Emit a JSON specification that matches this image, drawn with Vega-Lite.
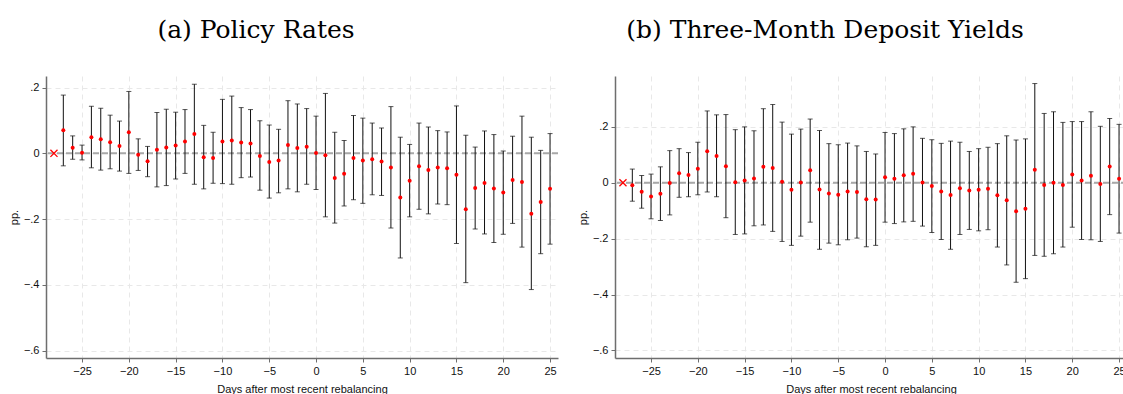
{
  "$schema": "https://vega.github.io/schema/vega-lite/v6.json",
  "padding": {"left": 8, "top": 18, "right": 0, "bottom": 0},
  "spacing": 18,
  "config": {
    "view": {"stroke": null},
    "title": {"font": "DejaVu Serif", "fontSize": 25, "fontWeight": "normal", "color": "#000", "baseline": "alphabetic", "offset": 32.7, "anchor": "middle", "frame": "group"},
    "axis": {"grid": true, "gridColor": "#e8e8e8", "gridDash": [5, 4], "gridWidth": 1, "domainColor": "#6e6e6e", "domainWidth": 1.5, "tickColor": "#6e6e6e", "tickSize": 4, "labelPadding": 3, "labelFont": "Liberation Sans", "labelFontSize": 11, "labelColor": "#111", "titleFont": "Liberation Sans", "titleFontSize": 11, "titleFontWeight": "normal", "titleColor": "#111"},
    "axisY": {"labelExpr": "datum.value == 0 ? '0' : replace(format(datum.value, '.1f'), '0.', '.')", "titlePadding": 4},
    "axisX": {"titlePadding": 7}
  },
  "datasets": {
    "policy": [
      {"day": -28, "est": 0},
      {"day": -27, "est": 0.070, "lo": -0.038, "hi": 0.177},
      {"day": -26, "est": 0.017, "lo": -0.018, "hi": 0.053},
      {"day": -25, "est": 0.002, "lo": -0.020, "hi": 0.025},
      {"day": -24, "est": 0.049, "lo": -0.044, "hi": 0.143},
      {"day": -23, "est": 0.043, "lo": -0.051, "hi": 0.137},
      {"day": -22, "est": 0.034, "lo": -0.047, "hi": 0.116},
      {"day": -21, "est": 0.022, "lo": -0.054, "hi": 0.098},
      {"day": -20, "est": 0.064, "lo": -0.061, "hi": 0.188},
      {"day": -19, "est": -0.004, "lo": -0.052, "hi": 0.044},
      {"day": -18, "est": -0.024, "lo": -0.071, "hi": 0.021},
      {"day": -17, "est": 0.011, "lo": -0.102, "hi": 0.124},
      {"day": -16, "est": 0.018, "lo": -0.098, "hi": 0.134},
      {"day": -15, "est": 0.024, "lo": -0.078, "hi": 0.125},
      {"day": -14, "est": 0.036, "lo": -0.061, "hi": 0.133},
      {"day": -13, "est": 0.059, "lo": -0.094, "hi": 0.210},
      {"day": -12, "est": -0.012, "lo": -0.108, "hi": 0.085},
      {"day": -11, "est": -0.014, "lo": -0.091, "hi": 0.064},
      {"day": -10, "est": 0.036, "lo": -0.092, "hi": 0.164},
      {"day": -9, "est": 0.039, "lo": -0.094, "hi": 0.174},
      {"day": -8, "est": 0.033, "lo": -0.074, "hi": 0.139},
      {"day": -7, "est": 0.030, "lo": -0.072, "hi": 0.133},
      {"day": -6, "est": -0.008, "lo": -0.112, "hi": 0.099},
      {"day": -5, "est": -0.026, "lo": -0.136, "hi": 0.086},
      {"day": -4, "est": -0.022, "lo": -0.120, "hi": 0.073},
      {"day": -3, "est": 0.025, "lo": -0.108, "hi": 0.160},
      {"day": -2, "est": 0.016, "lo": -0.117, "hi": 0.150},
      {"day": -1, "est": 0.020, "lo": -0.094, "hi": 0.136},
      {"day": 0, "est": 0.001, "lo": -0.110, "hi": 0.113},
      {"day": 1, "est": -0.006, "lo": -0.193, "hi": 0.182},
      {"day": 2, "est": -0.075, "lo": -0.212, "hi": 0.064},
      {"day": 3, "est": -0.062, "lo": -0.160, "hi": 0.039},
      {"day": 4, "est": -0.014, "lo": -0.141, "hi": 0.115},
      {"day": 5, "est": -0.022, "lo": -0.152, "hi": 0.107},
      {"day": 6, "est": -0.018, "lo": -0.126, "hi": 0.092},
      {"day": 7, "est": -0.025, "lo": -0.128, "hi": 0.077},
      {"day": 8, "est": -0.043, "lo": -0.227, "hi": 0.142},
      {"day": 9, "est": -0.134, "lo": -0.318, "hi": 0.049},
      {"day": 10, "est": -0.083, "lo": -0.193, "hi": 0.027},
      {"day": 11, "est": -0.039, "lo": -0.170, "hi": 0.092},
      {"day": 12, "est": -0.051, "lo": -0.184, "hi": 0.080},
      {"day": 13, "est": -0.043, "lo": -0.154, "hi": 0.069},
      {"day": 14, "est": -0.045, "lo": -0.156, "hi": 0.065},
      {"day": 15, "est": -0.065, "lo": -0.274, "hi": 0.144},
      {"day": 16, "est": -0.170, "lo": -0.393, "hi": 0.055},
      {"day": 17, "est": -0.105, "lo": -0.230, "hi": 0.019},
      {"day": 18, "est": -0.090, "lo": -0.245, "hi": 0.068},
      {"day": 19, "est": -0.107, "lo": -0.271, "hi": 0.057},
      {"day": 20, "est": -0.119, "lo": -0.246, "hi": 0.007},
      {"day": 21, "est": -0.081, "lo": -0.213, "hi": 0.052},
      {"day": 22, "est": -0.087, "lo": -0.285, "hi": 0.113},
      {"day": 23, "est": -0.184, "lo": -0.414, "hi": 0.049},
      {"day": 24, "est": -0.148, "lo": -0.305, "hi": 0.009},
      {"day": 25, "est": -0.108, "lo": -0.276, "hi": 0.060}
    ],
    "deposit": [
      {"day": -28, "est": 0},
      {"day": -27, "est": -0.009, "lo": -0.066, "hi": 0.049},
      {"day": -26, "est": -0.032, "lo": -0.091, "hi": 0.026},
      {"day": -25, "est": -0.049, "lo": -0.129, "hi": 0.031},
      {"day": -24, "est": -0.039, "lo": -0.135, "hi": 0.057},
      {"day": -23, "est": -0.001, "lo": -0.115, "hi": 0.115},
      {"day": -22, "est": 0.034, "lo": -0.052, "hi": 0.122},
      {"day": -21, "est": 0.028, "lo": -0.050, "hi": 0.108},
      {"day": -20, "est": 0.050, "lo": -0.043, "hi": 0.145},
      {"day": -19, "est": 0.113, "lo": -0.033, "hi": 0.257},
      {"day": -18, "est": 0.096, "lo": -0.050, "hi": 0.243},
      {"day": -17, "est": 0.059, "lo": -0.125, "hi": 0.244},
      {"day": -16, "est": 0.002, "lo": -0.185, "hi": 0.190},
      {"day": -15, "est": 0.008, "lo": -0.183, "hi": 0.200},
      {"day": -14, "est": 0.015, "lo": -0.154, "hi": 0.186},
      {"day": -13, "est": 0.057, "lo": -0.151, "hi": 0.265},
      {"day": -12, "est": 0.053, "lo": -0.174, "hi": 0.280},
      {"day": -11, "est": 0.004, "lo": -0.210, "hi": 0.217},
      {"day": -10, "est": -0.025, "lo": -0.224, "hi": 0.174},
      {"day": -9, "est": 0.001, "lo": -0.191, "hi": 0.192},
      {"day": -8, "est": 0.045, "lo": -0.141, "hi": 0.228},
      {"day": -7, "est": -0.024, "lo": -0.238, "hi": 0.187},
      {"day": -6, "est": -0.038, "lo": -0.216, "hi": 0.140},
      {"day": -5, "est": -0.043, "lo": -0.222, "hi": 0.136},
      {"day": -4, "est": -0.031, "lo": -0.204, "hi": 0.142},
      {"day": -3, "est": -0.033, "lo": -0.198, "hi": 0.132},
      {"day": -2, "est": -0.059, "lo": -0.229, "hi": 0.112},
      {"day": -1, "est": -0.060, "lo": -0.224, "hi": 0.103},
      {"day": 0, "est": 0.020, "lo": -0.141, "hi": 0.180},
      {"day": 1, "est": 0.014, "lo": -0.146, "hi": 0.176},
      {"day": 2, "est": 0.027, "lo": -0.140, "hi": 0.193},
      {"day": 3, "est": 0.032, "lo": -0.138, "hi": 0.200},
      {"day": 4, "est": 0.001, "lo": -0.155, "hi": 0.159},
      {"day": 5, "est": -0.012, "lo": -0.178, "hi": 0.154},
      {"day": 6, "est": -0.031, "lo": -0.203, "hi": 0.141},
      {"day": 7, "est": -0.044, "lo": -0.238, "hi": 0.149},
      {"day": 8, "est": -0.020, "lo": -0.185, "hi": 0.145},
      {"day": 9, "est": -0.028, "lo": -0.167, "hi": 0.112},
      {"day": 10, "est": -0.025, "lo": -0.172, "hi": 0.122},
      {"day": 11, "est": -0.021, "lo": -0.168, "hi": 0.127},
      {"day": 12, "est": -0.045, "lo": -0.230, "hi": 0.140},
      {"day": 13, "est": -0.063, "lo": -0.294, "hi": 0.168},
      {"day": 14, "est": -0.102, "lo": -0.356, "hi": 0.153},
      {"day": 15, "est": -0.093, "lo": -0.343, "hi": 0.157},
      {"day": 16, "est": 0.047, "lo": -0.260, "hi": 0.355},
      {"day": 17, "est": -0.008, "lo": -0.263, "hi": 0.248},
      {"day": 18, "est": 0.000, "lo": -0.254, "hi": 0.254},
      {"day": 19, "est": -0.008, "lo": -0.230, "hi": 0.216},
      {"day": 20, "est": 0.030, "lo": -0.159, "hi": 0.219},
      {"day": 21, "est": 0.008, "lo": -0.203, "hi": 0.219},
      {"day": 22, "est": 0.025, "lo": -0.204, "hi": 0.254},
      {"day": 23, "est": -0.004, "lo": -0.210, "hi": 0.202},
      {"day": 24, "est": 0.058, "lo": -0.114, "hi": 0.230},
      {"day": 25, "est": 0.014, "lo": -0.180, "hi": 0.209}
    ]
  },
  "hconcat": [
    {
      "width": 512,
      "height": 282,
      "title": {"text": "(a) Policy Rates", "dx": -46},
      "data": {"name": "policy"},
      "layer": [
        {
          "data": {"values": [{}]},
          "mark": {"type": "rule", "color": "#a8a8a8", "strokeWidth": 2, "strokeDash": [6, 3]},
          "encoding": {"y": {"datum": 0, "type": "quantitative", "scale": {"domain": [-0.622, 0.235], "nice": false, "zero": false}, "axis": {"values": [-0.6, -0.4, -0.2, 0, 0.2], "title": "pp."}}}
        },
        {
          "transform": [{"filter": "isValid(datum.lo)"}],
          "mark": {"type": "rule", "color": "#111", "strokeWidth": 1},
          "encoding": {
            "x": {"field": "day", "type": "quantitative", "scale": {"domain": [-28.85, 25.85], "nice": false, "zero": false}, "axis": {"values": [-25, -20, -15, -10, -5, 0, 5, 10, 15, 20, 25], "title": "Days after most recent rebalancing"}},
            "y": {"field": "lo", "type": "quantitative", "scale": {"domain": [-0.622, 0.235], "nice": false, "zero": false}, "axis": {"values": [-0.6, -0.4, -0.2, 0, 0.2], "title": "pp."}},
            "y2": {"field": "hi"}
          }
        },
        {
          "transform": [{"filter": "isValid(datum.lo)"}],
          "mark": {"type": "tick", "orient": "horizontal", "size": 5, "thickness": 1, "color": "#111"},
          "encoding": {
            "x": {"field": "day", "type": "quantitative", "scale": {"domain": [-28.85, 25.85], "nice": false, "zero": false}, "axis": {"values": [-25, -20, -15, -10, -5, 0, 5, 10, 15, 20, 25], "title": "Days after most recent rebalancing"}},
            "y": {"field": "lo", "type": "quantitative", "scale": {"domain": [-0.622, 0.235], "nice": false, "zero": false}, "axis": {"values": [-0.6, -0.4, -0.2, 0, 0.2], "title": "pp."}}
          }
        },
        {
          "transform": [{"filter": "isValid(datum.hi)"}],
          "mark": {"type": "tick", "orient": "horizontal", "size": 5, "thickness": 1, "color": "#111"},
          "encoding": {
            "x": {"field": "day", "type": "quantitative", "scale": {"domain": [-28.85, 25.85], "nice": false, "zero": false}, "axis": {"values": [-25, -20, -15, -10, -5, 0, 5, 10, 15, 20, 25], "title": "Days after most recent rebalancing"}},
            "y": {"field": "hi", "type": "quantitative", "scale": {"domain": [-0.622, 0.235], "nice": false, "zero": false}, "axis": {"values": [-0.6, -0.4, -0.2, 0, 0.2], "title": "pp."}}
          }
        },
        {
          "transform": [{"filter": "isValid(datum.lo)"}],
          "mark": {"type": "point", "filled": true, "shape": "circle", "size": 16, "color": "#ff0000", "opacity": 1},
          "encoding": {
            "x": {"field": "day", "type": "quantitative", "scale": {"domain": [-28.85, 25.85], "nice": false, "zero": false}, "axis": {"values": [-25, -20, -15, -10, -5, 0, 5, 10, 15, 20, 25], "title": "Days after most recent rebalancing"}},
            "y": {"field": "est", "type": "quantitative", "scale": {"domain": [-0.622, 0.235], "nice": false, "zero": false}, "axis": {"values": [-0.6, -0.4, -0.2, 0, 0.2], "title": "pp."}}
          }
        },
        {
          "transform": [{"filter": "!isValid(datum.lo)"}],
          "mark": {"type": "point", "filled": false, "shape": "M-1,-1L1,1M1,-1L-1,1", "size": 50, "color": "#ff0000", "strokeWidth": 1.3, "opacity": 1},
          "encoding": {
            "x": {"field": "day", "type": "quantitative", "scale": {"domain": [-28.85, 25.85], "nice": false, "zero": false}, "axis": {"values": [-25, -20, -15, -10, -5, 0, 5, 10, 15, 20, 25], "title": "Days after most recent rebalancing"}},
            "y": {"field": "est", "type": "quantitative", "scale": {"domain": [-0.622, 0.235], "nice": false, "zero": false}, "axis": {"values": [-0.6, -0.4, -0.2, 0, 0.2], "title": "pp."}}
          }
        }
      ]
    },
    {
      "width": 512,
      "height": 282,
      "title": {"text": "(b) Three-Month Deposit Yields", "dx": -46},
      "data": {"name": "deposit"},
      "layer": [
        {
          "data": {"values": [{}]},
          "mark": {"type": "rule", "color": "#a8a8a8", "strokeWidth": 2, "strokeDash": [6, 3]},
          "encoding": {"y": {"datum": 0, "type": "quantitative", "scale": {"domain": [-0.627, 0.382], "nice": false, "zero": false}, "axis": {"values": [-0.6, -0.4, -0.2, 0, 0.2], "title": "pp."}}}
        },
        {
          "transform": [{"filter": "isValid(datum.lo)"}],
          "mark": {"type": "rule", "color": "#111", "strokeWidth": 1},
          "encoding": {
            "x": {"field": "day", "type": "quantitative", "scale": {"domain": [-28.85, 25.85], "nice": false, "zero": false}, "axis": {"values": [-25, -20, -15, -10, -5, 0, 5, 10, 15, 20, 25], "title": "Days after most recent rebalancing"}},
            "y": {"field": "lo", "type": "quantitative", "scale": {"domain": [-0.627, 0.382], "nice": false, "zero": false}, "axis": {"values": [-0.6, -0.4, -0.2, 0, 0.2], "title": "pp."}},
            "y2": {"field": "hi"}
          }
        },
        {
          "transform": [{"filter": "isValid(datum.lo)"}],
          "mark": {"type": "tick", "orient": "horizontal", "size": 5, "thickness": 1, "color": "#111"},
          "encoding": {
            "x": {"field": "day", "type": "quantitative", "scale": {"domain": [-28.85, 25.85], "nice": false, "zero": false}, "axis": {"values": [-25, -20, -15, -10, -5, 0, 5, 10, 15, 20, 25], "title": "Days after most recent rebalancing"}},
            "y": {"field": "lo", "type": "quantitative", "scale": {"domain": [-0.627, 0.382], "nice": false, "zero": false}, "axis": {"values": [-0.6, -0.4, -0.2, 0, 0.2], "title": "pp."}}
          }
        },
        {
          "transform": [{"filter": "isValid(datum.hi)"}],
          "mark": {"type": "tick", "orient": "horizontal", "size": 5, "thickness": 1, "color": "#111"},
          "encoding": {
            "x": {"field": "day", "type": "quantitative", "scale": {"domain": [-28.85, 25.85], "nice": false, "zero": false}, "axis": {"values": [-25, -20, -15, -10, -5, 0, 5, 10, 15, 20, 25], "title": "Days after most recent rebalancing"}},
            "y": {"field": "hi", "type": "quantitative", "scale": {"domain": [-0.627, 0.382], "nice": false, "zero": false}, "axis": {"values": [-0.6, -0.4, -0.2, 0, 0.2], "title": "pp."}}
          }
        },
        {
          "transform": [{"filter": "isValid(datum.lo)"}],
          "mark": {"type": "point", "filled": true, "shape": "circle", "size": 16, "color": "#ff0000", "opacity": 1},
          "encoding": {
            "x": {"field": "day", "type": "quantitative", "scale": {"domain": [-28.85, 25.85], "nice": false, "zero": false}, "axis": {"values": [-25, -20, -15, -10, -5, 0, 5, 10, 15, 20, 25], "title": "Days after most recent rebalancing"}},
            "y": {"field": "est", "type": "quantitative", "scale": {"domain": [-0.627, 0.382], "nice": false, "zero": false}, "axis": {"values": [-0.6, -0.4, -0.2, 0, 0.2], "title": "pp."}}
          }
        },
        {
          "transform": [{"filter": "!isValid(datum.lo)"}],
          "mark": {"type": "point", "filled": false, "shape": "M-1,-1L1,1M1,-1L-1,1", "size": 50, "color": "#ff0000", "strokeWidth": 1.3, "opacity": 1},
          "encoding": {
            "x": {"field": "day", "type": "quantitative", "scale": {"domain": [-28.85, 25.85], "nice": false, "zero": false}, "axis": {"values": [-25, -20, -15, -10, -5, 0, 5, 10, 15, 20, 25], "title": "Days after most recent rebalancing"}},
            "y": {"field": "est", "type": "quantitative", "scale": {"domain": [-0.627, 0.382], "nice": false, "zero": false}, "axis": {"values": [-0.6, -0.4, -0.2, 0, 0.2], "title": "pp."}}
          }
        }
      ]
    }
  ]
}
